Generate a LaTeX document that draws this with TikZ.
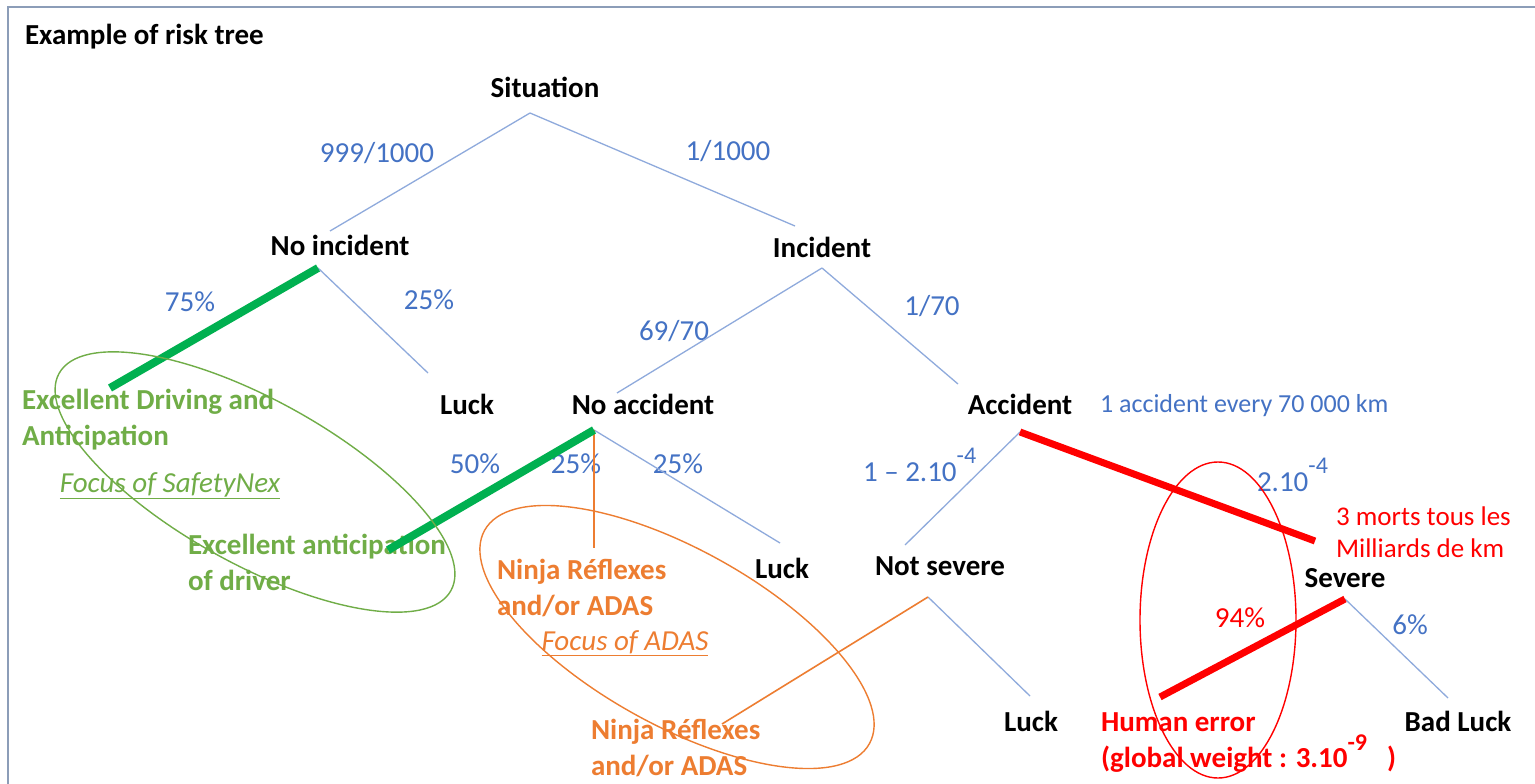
\documentclass[tikz,border=0pt]{standalone}
\usepackage{fontspec}
\setmainfont{Carlito}
\definecolor{thinc}{HTML}{8FAADC}
\definecolor{probc}{HTML}{4472C4}
\definecolor{gtext}{HTML}{70AD47}
\definecolor{gthick}{HTML}{00B050}
\definecolor{orng}{HTML}{ED7D31}
\definecolor{rd}{HTML}{FF0000}
\definecolor{framec}{HTML}{8C9DB8}
\newcommand{\supx}[1]{\raisebox{0.6em}{\fontsize{24}{24}\selectfont #1}}
\begin{document}
\begin{tikzpicture}[x=1pt,y=-1pt,
  every node/.style={inner sep=0pt, outer sep=0pt},
  lab/.style={font=\fontsize{29}{36}\selectfont\bfseries, text=black, text height=20pt, text depth=6pt},
  prob/.style={font=\fontsize{29}{36}\selectfont, text=probc, text height=20pt, text depth=6pt},
  mlab/.style={font=\fontsize{29}{36}\selectfont\bfseries, align=left, anchor=north west},
  thinl/.style={draw=thinc, line width=1.3pt},
  gbar/.style={draw=gthick, line width=8pt},
  rbar/.style={draw=rd, line width=7pt},
  oline/.style={draw=orng, line width=1.6pt},
  ring/.style={line width=1.4pt}]
\useasboundingbox (0,0) rectangle (1535,784);
\fill[white] (0,0) rectangle (1535,784);
\draw[framec, line width=2pt] (8,800) -- (8,7) -- (1545,7);

% title
\node[lab, anchor=west] (title) at (25,38) {Example of risk tree};

% tree nodes
\node[lab] (sit) at (545,90) {Situation};
\node[lab] (ni) at (340,248) {No incident};
\node[lab] (inc) at (822,250) {Incident};
\node[lab] (luck1) at (467,407) {Luck};
\node[lab] (na) at (643,407) {No accident};
\node[lab] (acc) at (1020,407) {Accident};
\node[lab] (luck2) at (782,571) {Luck};
\node[lab] (ns) at (940,568) {Not severe};
\node[lab, text height=18pt] (sev) at (1345,581) {Severe};
\node[lab] (luck3) at (1031,724) {Luck};
\node[lab] (bl) at (1458,724) {Bad Luck};

\node[mlab, text=gtext] (ed) at (22,389) {Excellent Driving and\\Anticipation};
\node[font=\fontsize{29}{36}\selectfont\itshape, text=gtext, text height=20pt, text depth=6pt] (fsn) at (170,485) {\underline{Focus of SafetyNex}};
\node[mlab, text=gtext] (ea) at (188,534) {Excellent anticipation\\of driver};
\node[mlab, text=orng] (nr1) at (497,559) {Ninja Réflexes\\and/or ADAS};
\node[font=\fontsize{29}{36}\selectfont\itshape, text=orng, text height=20pt, text depth=6pt] (fad) at (625,643) {\underline{Focus of ADAS}};
\node[mlab, text=orng] (nr2) at (591,719) {Ninja Réflexes\\and/or ADAS};
\node[mlab, text=rd] (he) at (1101,713) {Human error\\(global weight : 3.10\supx{-9}\hspace{20pt})};
\node[font=\fontsize{27}{32}\selectfont, text=rd, align=left, anchor=north west] (morts) at (1336,507) {3 morts tous les\\Milliards de km};
\node[font=\fontsize{26}{34}\selectfont, text=probc, anchor=west, text height=19pt, text depth=6pt] (every) at (1100,406) {1 accident every 70 000 km};

% probability labels
\node[prob] (p1) at (377,155) {999/1000};
\node[prob] (p2) at (728,153) {1/1000};
\node[prob] (p3) at (190,304) {75\%};
\node[prob] (p4) at (429,302) {25\%};
\node[prob] (p5) at (674,333) {69/70};
\node[prob] (p6) at (932,308) {1/70};
\node[prob] (p7) at (475,466) {50\%};
\node[prob] (p8) at (576,466) {25\%};
\node[prob] (p9) at (678,466) {25\%};
\node[prob, anchor=west] (p10) at (863,474) {1 – 2.10\supx{-4}};
\node[prob, anchor=west] (p11) at (1257,484) {2.10\supx{-4}};
\node[prob, text=rd] (p12) at (1240,620) {94\%};
\node[prob] (p13) at (1410,627) {6\%};

% connector end points
\coordinate (sitB) at (530,113);
\coordinate (niT) at (330,231);
\coordinate (incT) at (795,226);
\coordinate (niB) at (318,268);
\coordinate (luck1T) at (428,373);
\coordinate (edT) at (110,388);
\coordinate (incB) at (822,268);
\coordinate (naT) at (617,393);
\coordinate (accT) at (958,384);
\coordinate (naB) at (594,430);
\coordinate (eaT) at (388,550);
\coordinate (nr1T) at (594,548);
\coordinate (luck2T) at (780,543);
\coordinate (accB) at (1020,432);
\coordinate (nsT) at (905,545);
\coordinate (sevT) at (1315,541);
\coordinate (nsB) at (928,597);
\coordinate (luck3T) at (1030,696);
\coordinate (nr2T) at (722,724);
\coordinate (sevB) at (1345,599);
\coordinate (heT) at (1160,697);
\coordinate (blT) at (1448,698);

% connectors
\draw[thinl] (sitB) -- (niT);
\draw[thinl] (sitB) -- (incT);
\draw[thinl] (niB) -- (luck1T);
\draw[thinl] (incB) -- (naT);
\draw[thinl] (incB) -- (accT);
\draw[thinl] (naB) -- (luck2T);
\draw[thinl] (accB) -- (nsT);
\draw[thinl] (nsB) -- (luck3T);
\draw[thinl] (sevB) -- (blT);
\draw[oline] (naB) -- (nr1T);
\draw[oline] (nsB) -- (nr2T);
\draw[gbar] (niB) -- (edT);
\draw[gbar] (naB) -- (eaT);
\draw[rbar] (accB) -- (sevT);
\draw[rbar] (sevB) -- (heT);

% highlight ellipses
\draw[ring, draw=gtext, rotate around={-29:(255,482)}] (255,482) ellipse [x radius=224pt, y radius=82pt];
\draw[ring, draw=orng, rotate around={-29:(677,637)}] (677,637) ellipse [x radius=220pt, y radius=88pt];
\draw[ring, draw=rd] (1218,620) ellipse [x radius=78pt, y radius=158pt];
\end{tikzpicture}
\end{document}
